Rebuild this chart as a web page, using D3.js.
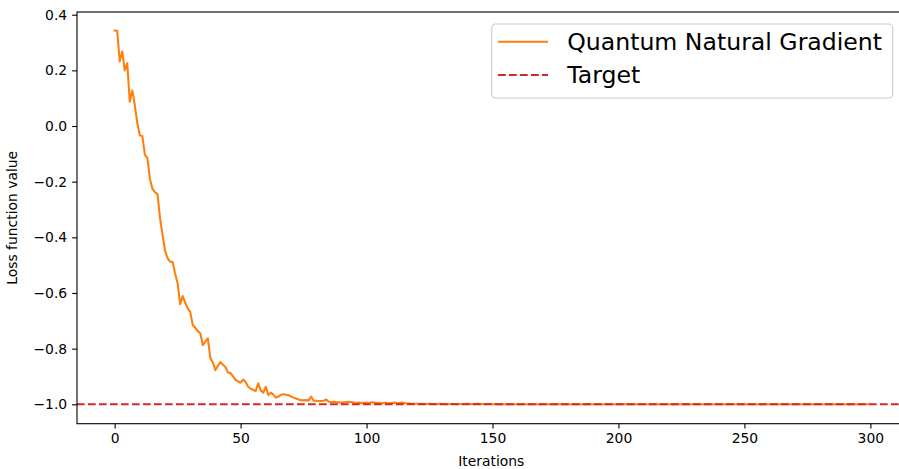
<!DOCTYPE html>
<html>
<head>
<meta charset="utf-8">
<script src="https://cdn.jsdelivr.net/npm/d3@7"></script>
<style>
  html, body { margin: 0; padding: 0; background: #fff; }
  svg { display: block; font-family: "DejaVu Sans", sans-serif; }
</style>
</head>
<body>
<div id="chart"></div>
<script>
// loss per iteration
const lossHead = [
  0.343, 0.342, 0.232, 0.268, 0.200, 0.226, 0.087, 0.128, 0.075, 0.010,
  -0.034, -0.036, -0.104, -0.115, -0.190, -0.226, -0.238, -0.245, -0.330, -0.390,
  -0.448, -0.475, -0.488, -0.488, -0.530, -0.565, -0.640, -0.611, -0.635, -0.655,
  -0.668, -0.715, -0.725, -0.737, -0.745, -0.787, -0.775, -0.763, -0.835, -0.850,
  -0.877, -0.862, -0.848, -0.858, -0.866, -0.886, -0.888, -0.900, -0.912, -0.918,
  -0.922, -0.911, -0.920, -0.937, -0.944, -0.948, -0.952, -0.925, -0.950, -0.958,
  -0.937, -0.967, -0.958, -0.965, -0.976, -0.972, -0.966, -0.964, -0.966, -0.967,
  -0.972, -0.976, -0.979, -0.983, -0.985, -0.986, -0.985, -0.986, -0.972, -0.987,
  -0.987, -0.988, -0.988, -0.987, -0.983, -0.991, -0.992, -0.991, -0.993, -0.993
];
const lossMid = [
  -0.994, -0.993, -0.992, -0.991, -0.992, -0.994, -0.995, -0.994, -0.995, -0.995,
  -0.994, -0.995, -0.993, -0.994, -0.995, -0.995, -0.996, -0.995, -0.995, -0.996,
  -0.995, -0.994, -0.996, -0.995, -0.994, -0.995, -0.997, -0.997, -0.998, -0.998,
  -0.998, -0.999, -0.998, -0.999, -0.999, -0.998, -0.999, -0.999, -0.999, -0.998,
  -0.999, -0.999, -1.000, -0.999, -0.999, -0.999, -1.000, -0.999, -0.999, -0.999,
  -0.998, -0.999, -0.999, -0.999, -0.998, -0.999, -0.999, -1.000, -0.999, -0.999
];
const lossTail = [
  -1.000, -0.999, -1.000, -1.000, -0.999, -1.000, -1.000, -1.000, -0.999, -1.000,
  -1.000, -1.000, -0.999, -1.000, -1.000, -1.000, -1.000, -0.999, -1.000, -1.000,
  -1.000, -0.999, -1.000, -1.000, -1.000, -1.000, -0.999, -1.000, -1.000, -1.000,
  -1.000, -1.000, -0.999, -1.000, -1.000, -1.000, -1.000, -1.000, -0.999, -1.000,
  -1.000, -1.000, -1.000, -1.000, -1.000, -0.999, -1.000, -1.000, -1.000, -1.000,
  -1.000, -1.000, -1.000, -0.999, -1.000, -1.000, -1.000, -1.000, -1.000, -1.000,
  -1.000, -1.000, -1.000, -1.000, -0.999, -1.000, -1.000, -1.000, -1.000, -1.000,
  -1.000, -1.000, -1.000, -1.000, -1.000, -1.000, -1.000, -0.999, -1.000, -1.000,
  -1.000, -1.000, -1.000, -1.000, -1.000, -1.000, -1.000, -1.000, -1.000, -1.000,
  -1.000, -1.000, -1.000, -1.000, -1.000, -1.000, -1.000, -1.000, -1.000, -1.000,
  -1.000, -1.000, -1.000, -1.000, -1.000, -1.000, -1.000, -1.000, -1.000, -1.000,
  -1.000, -1.000, -1.000, -1.000, -1.000, -1.000, -1.000, -1.000, -1.000, -1.000,
  -1.000, -1.000, -1.000, -1.000, -1.000, -1.000, -1.000, -1.000, -1.000, -1.000,
  -1.000, -1.000, -1.000, -1.000, -1.000, -1.000, -1.000, -1.000, -1.000, -1.000,
  -1.000, -1.000, -1.000, -1.000, -1.000, -1.000, -1.000, -1.000, -1.000, -1.000
];
const targetValue = -1.0;
const xTicks = [0, 50, 100, 150, 200, 250, 300];
const yTicks = [0.4, 0.2, 0.0, -0.2, -0.4, -0.6, -0.8, -1.0];
const seriesLabels = ["Quantum Natural Gradient", "Target"];

const loss = lossHead.concat(lossMid, lossTail);
const points = loss.map((v, i) => ({ iter: i, value: v }));

const W = 899, H = 469;
const margin = { top: 12, left: 77 };
const plotW = 828.5, plotH = 411.7;

const svg = d3.select("#chart").append("svg")
  .attr("width", W).attr("height", H);

const g = svg.append("g")
  .attr("transform", "translate(" + margin.left + "," + margin.top + ")");

// matplotlib style 5% padding
const n = points.length - 1;
const xScale = d3.scaleLinear()
  .domain([-0.05 * n, n * 1.05])
  .range([0, plotW]);
const yScale = d3.scaleLinear()
  .domain([-1.0697, 0.4097])
  .range([plotH, 0]);

svg.append("clipPath").attr("id", "plotClip")
  .append("rect").attr("width", plotW).attr("height", plotH);

const plotG = g.append("g").attr("clip-path", "url(#plotClip)");

const line = d3.line()
  .x(d => xScale(d.iter))
  .y(d => yScale(d.value));

plotG.append("path")
  .datum(points)
  .attr("fill", "none")
  .attr("stroke", "#ff7f0e")
  .attr("stroke-width", 2.08)
  .attr("stroke-linejoin", "round")
  .attr("stroke-linecap", "square")
  .attr("d", line);

plotG.append("line")
  .attr("x1", 0).attr("x2", plotW)
  .attr("y1", yScale(targetValue)).attr("y2", yScale(targetValue))
  .attr("stroke", "#d62728")
  .attr("stroke-width", 2.08)
  .attr("stroke-dasharray", "7.7,3.3");

// axes
const xAxis = d3.axisBottom(xScale).tickValues(xTicks)
  .tickSize(4.9).tickPadding(4.9).tickFormat(d3.format("d"));
const yAxis = d3.axisLeft(yScale).tickValues(yTicks)
  .tickSize(4.9).tickPadding(4.9).tickFormat(d3.format(".1f"));

const xAxisG = g.append("g")
  .attr("transform", "translate(0," + plotH + ")")
  .call(xAxis);
const yAxisG = g.append("g").call(yAxis);

[xAxisG, yAxisG].forEach(ax => {
  ax.select(".domain").remove();
  ax.selectAll(".tick line").attr("stroke", "#000").attr("stroke-width", 1.1);
  ax.selectAll(".tick text")
    .attr("fill", "#000")
    .style("font-size", "13.9px")
    .style("font-family", "DejaVu Sans");
});

// spines
g.append("rect")
  .attr("width", plotW).attr("height", plotH)
  .attr("fill", "none")
  .attr("stroke", "#000")
  .attr("stroke-width", 1.1);

// axis labels
g.append("text")
  .attr("x", plotW / 2).attr("y", plotH + 42)
  .attr("text-anchor", "middle")
  .style("font-size", "13.9px")
  .text("Iterations");

g.append("text")
  .attr("transform", "translate(" + (-60) + "," + (plotH / 2) + ") rotate(-90)")
  .attr("text-anchor", "middle")
  .style("font-size", "13.9px")
  .text("Loss function value");

// legend
const legend = svg.append("g").attr("transform", "translate(491.7,24)");
legend.append("rect")
  .attr("width", 401).attr("height", 74)
  .attr("rx", 4).attr("ry", 4)
  .attr("fill", "#fff").attr("fill-opacity", 0.8)
  .attr("stroke", "#cccccc").attr("stroke-width", 1.1);

const legendStyles = [
  { color: "#ff7f0e", dash: null },
  { color: "#d62728", dash: "7.7,3.3" }
];
seriesLabels.forEach((label, i) => {
  const yy = 17.7 + i * 33.3;
  legend.append("line")
    .attr("x1", 6.3).attr("x2", 56.3)
    .attr("y1", yy).attr("y2", yy)
    .attr("stroke", legendStyles[i].color)
    .attr("stroke-width", 2.08)
    .attr("stroke-dasharray", legendStyles[i].dash);
  legend.append("text")
    .attr("x", 75.5).attr("y", yy)
    .attr("dy", "0.36em")
    .style("font-size", "23.6px")
    .attr("fill", "#000")
    .text(label);
});
</script>
</body>
</html>
